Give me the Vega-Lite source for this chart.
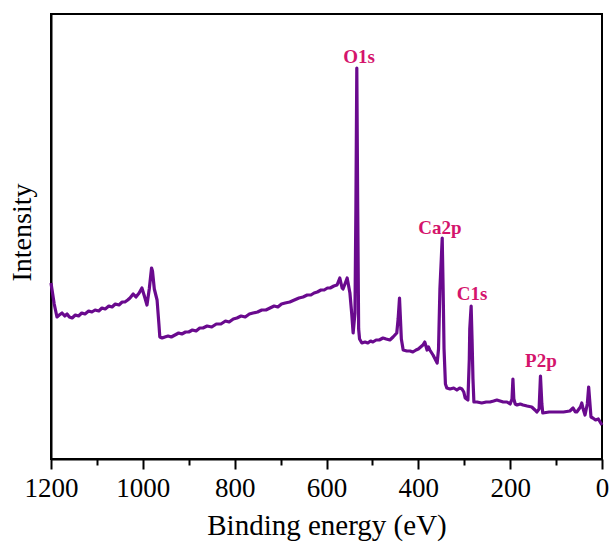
{
  "$schema": "https://vega.github.io/schema/vega-lite/v6.json",
  "width": 551,
  "height": 445,
  "autosize": {"type": "none"},
  "padding": {"left": 51, "top": 14, "right": 9, "bottom": 83},
  "config": {"view": {"stroke": "black", "strokeWidth": 2}, "axis": {"grid": false}},
  "datasets": {
    "spectrum": [
      {"energy": 1200, "intensity": 176}, {"energy": 1198, "intensity": 170}, {"energy": 1193, "intensity": 155},
      {"energy": 1187, "intensity": 142}, {"energy": 1182, "intensity": 144}, {"energy": 1176, "intensity": 146}, {"energy": 1170, "intensity": 143}, {"energy": 1165, "intensity": 145},
      {"energy": 1160, "intensity": 142}, {"energy": 1154, "intensity": 141}, {"energy": 1147, "intensity": 144}, {"energy": 1140, "intensity": 143}, {"energy": 1133, "intensity": 146}, {"energy": 1126, "intensity": 145},
      {"energy": 1118, "intensity": 148}, {"energy": 1111, "intensity": 147}, {"energy": 1104, "intensity": 149}, {"energy": 1096, "intensity": 148}, {"energy": 1089, "intensity": 151}, {"energy": 1082, "intensity": 150},
      {"energy": 1074, "intensity": 153}, {"energy": 1067, "intensity": 152}, {"energy": 1060, "intensity": 155}, {"energy": 1052, "intensity": 154}, {"energy": 1045, "intensity": 157},
      {"energy": 1039, "intensity": 157}, {"energy": 1033, "intensity": 159}, {"energy": 1028, "intensity": 161}, {"energy": 1021, "intensity": 165},
      {"energy": 1017, "intensity": 163}, {"energy": 1015, "intensity": 162}, {"energy": 1008, "intensity": 166},
      {"energy": 1002, "intensity": 171}, {"energy": 996, "intensity": 162}, {"energy": 991, "intensity": 154},
      {"energy": 986, "intensity": 170}, {"energy": 981, "intensity": 191}, {"energy": 979, "intensity": 188},
      {"energy": 975, "intensity": 170}, {"energy": 969, "intensity": 159}, {"energy": 965, "intensity": 135},
      {"energy": 963, "intensity": 122}, {"energy": 958, "intensity": 121}, {"energy": 952, "intensity": 122}, {"energy": 945, "intensity": 123}, {"energy": 938, "intensity": 122}, {"energy": 930, "intensity": 124},
      {"energy": 922, "intensity": 126}, {"energy": 915, "intensity": 125}, {"energy": 907, "intensity": 127}, {"energy": 900, "intensity": 127}, {"energy": 892, "intensity": 129}, {"energy": 884, "intensity": 128}, {"energy": 876, "intensity": 131}, {"energy": 869, "intensity": 131},
      {"energy": 860, "intensity": 133}, {"energy": 850, "intensity": 132}, {"energy": 840, "intensity": 135}, {"energy": 830, "intensity": 135}, {"energy": 820, "intensity": 138}, {"energy": 812, "intensity": 137}, {"energy": 803, "intensity": 140},
      {"energy": 795, "intensity": 141}, {"energy": 786, "intensity": 143}, {"energy": 777, "intensity": 142}, {"energy": 768, "intensity": 145}, {"energy": 760, "intensity": 146}, {"energy": 750, "intensity": 147}, {"energy": 741, "intensity": 149}, {"energy": 732, "intensity": 149},
      {"energy": 723, "intensity": 151}, {"energy": 714, "intensity": 153}, {"energy": 706, "intensity": 152}, {"energy": 698, "intensity": 155}, {"energy": 690, "intensity": 156}, {"energy": 680, "intensity": 157}, {"energy": 670, "intensity": 159}, {"energy": 660, "intensity": 161},
      {"energy": 651, "intensity": 162}, {"energy": 642, "intensity": 164}, {"energy": 634, "intensity": 164}, {"energy": 627, "intensity": 166}, {"energy": 620, "intensity": 167}, {"energy": 612, "intensity": 169}, {"energy": 605, "intensity": 169}, {"energy": 598, "intensity": 171},
      {"energy": 592, "intensity": 171}, {"energy": 584, "intensity": 173}, {"energy": 577, "intensity": 174}, {"energy": 571, "intensity": 181},
      {"energy": 566, "intensity": 171}, {"energy": 564, "intensity": 170}, {"energy": 559, "intensity": 176}, {"energy": 555, "intensity": 181},
      {"energy": 549, "intensity": 166}, {"energy": 545, "intensity": 145}, {"energy": 542, "intensity": 126},
      {"energy": 538, "intensity": 146}, {"energy": 536, "intensity": 250}, {"energy": 534, "intensity": 391},
      {"energy": 532, "intensity": 250}, {"energy": 530, "intensity": 130}, {"energy": 528, "intensity": 120},
      {"energy": 523, "intensity": 116}, {"energy": 516, "intensity": 117}, {"energy": 510, "intensity": 116}, {"energy": 504, "intensity": 118}, {"energy": 499, "intensity": 117},
      {"energy": 492, "intensity": 119}, {"energy": 485, "intensity": 119}, {"energy": 477, "intensity": 121}, {"energy": 470, "intensity": 120}, {"energy": 462, "intensity": 119}, {"energy": 455, "intensity": 122}, {"energy": 447, "intensity": 126},
      {"energy": 444, "intensity": 140}, {"energy": 441, "intensity": 161}, {"energy": 437, "intensity": 120},
      {"energy": 433, "intensity": 109}, {"energy": 425, "intensity": 108}, {"energy": 418, "intensity": 108}, {"energy": 412, "intensity": 107},
      {"energy": 405, "intensity": 109}, {"energy": 400, "intensity": 110}, {"energy": 395, "intensity": 112}, {"energy": 390, "intensity": 114}, {"energy": 386, "intensity": 117},
      {"energy": 381, "intensity": 109}, {"energy": 378, "intensity": 112}, {"energy": 375, "intensity": 109},
      {"energy": 368, "intensity": 104}, {"energy": 359, "intensity": 96}, {"energy": 356, "intensity": 110},
      {"energy": 353, "intensity": 170}, {"energy": 350, "intensity": 200}, {"energy": 348, "intensity": 221},
      {"energy": 346, "intensity": 170}, {"energy": 344, "intensity": 110}, {"energy": 341, "intensity": 75},
      {"energy": 338, "intensity": 71}, {"energy": 331, "intensity": 70}, {"energy": 323, "intensity": 71}, {"energy": 316, "intensity": 69},
      {"energy": 310, "intensity": 71}, {"energy": 305, "intensity": 70}, {"energy": 301, "intensity": 67}, {"energy": 298, "intensity": 61},
      {"energy": 292, "intensity": 59}, {"energy": 289, "intensity": 100}, {"energy": 288, "intensity": 130},
      {"energy": 285, "intensity": 153}, {"energy": 283, "intensity": 120}, {"energy": 281, "intensity": 80},
      {"energy": 279, "intensity": 57}, {"energy": 272, "intensity": 57}, {"energy": 262, "intensity": 56}, {"energy": 252, "intensity": 57}, {"energy": 244, "intensity": 57},
      {"energy": 236, "intensity": 58}, {"energy": 229, "intensity": 59}, {"energy": 222, "intensity": 58}, {"energy": 215, "intensity": 57}, {"energy": 207, "intensity": 57},
      {"energy": 200, "intensity": 55}, {"energy": 196, "intensity": 60}, {"energy": 194, "intensity": 80},
      {"energy": 192, "intensity": 60}, {"energy": 189, "intensity": 55}, {"energy": 185, "intensity": 54},
      {"energy": 178, "intensity": 55}, {"energy": 172, "intensity": 54}, {"energy": 163, "intensity": 53}, {"energy": 153, "intensity": 52}, {"energy": 146, "intensity": 49}, {"energy": 142, "intensity": 47},
      {"energy": 137, "intensity": 50}, {"energy": 134, "intensity": 83}, {"energy": 131, "intensity": 55},
      {"energy": 129, "intensity": 46}, {"energy": 115, "intensity": 47}, {"energy": 98, "intensity": 47}, {"energy": 84, "intensity": 47}, {"energy": 70, "intensity": 48},
      {"energy": 63, "intensity": 51}, {"energy": 58, "intensity": 47}, {"energy": 55, "intensity": 47},
      {"energy": 47, "intensity": 52}, {"energy": 44, "intensity": 56}, {"energy": 41, "intensity": 50},
      {"energy": 37, "intensity": 44}, {"energy": 32, "intensity": 55}, {"energy": 29, "intensity": 72},
      {"energy": 27, "intensity": 60}, {"energy": 24, "intensity": 42}, {"energy": 20, "intensity": 41},
      {"energy": 14, "intensity": 39}, {"energy": 8, "intensity": 40}, {"energy": 4, "intensity": 37},
      {"energy": 0, "intensity": 34}
    ],
    "peaks": [
      {"label": "O1s", "energy": 529, "intensity": 402},
      {"label": "Ca2p", "energy": 353, "intensity": 231},
      {"label": "C1s", "energy": 283, "intensity": 165},
      {"label": "P2p", "energy": 133, "intensity": 98}
    ]
  },
  "resolve": {"axis": {"x": "independent", "y": "independent"}},
  "layer": [
    {
      "data": {"name": "spectrum"},
      "mark": {"type": "line", "color": "#6a0a8e", "strokeWidth": 3.2, "strokeJoin": "round"},
      "encoding": {
        "x": {
          "field": "energy", "type": "quantitative",
          "scale": {"domain": [1200, 0], "nice": false, "zero": false},
          "axis": {
            "orient": "bottom",
            "values": [0, 200, 400, 600, 800, 1000, 1200],
            "format": "d",
            "tickSize": 10, "tickWidth": 2, "tickColor": "black",
            "domainColor": "black", "domainWidth": 2,
            "labelFont": "Times New Roman", "labelFontSize": 27, "labelColor": "black",
            "labelPadding": 6, "labelFlush": false, "labelOverlap": false,
            "title": "Binding energy (eV)", "titleFont": "Times New Roman", "titleFontSize": 29,
            "titleFontWeight": "normal", "titleColor": "black",
            "titleBaseline": "alphabetic", "titleY": 75, "titleX": 275.5, "titleAlign": "center"
          }
        },
        "y": {
          "field": "intensity", "type": "quantitative",
          "scale": {"domain": [0, 445], "nice": false, "zero": false},
          "axis": {
            "orient": "left",
            "ticks": false, "labels": false,
            "domainColor": "black", "domainWidth": 2,
            "title": "Intensity", "titleFont": "Times New Roman", "titleFontSize": 28,
            "titleFontWeight": "normal", "titleColor": "black",
            "titleAngle": 270, "titleX": -29, "titleY": 218,
            "titleAlign": "center", "titleBaseline": "middle"
          }
        }
      }
    },
    {
      "data": {"name": "peaks"},
      "mark": {"type": "text", "font": "Times New Roman", "fontWeight": "bold", "fontSize": 19, "color": "#d4146c", "align": "center", "baseline": "middle"},
      "encoding": {
        "x": {
          "field": "energy", "type": "quantitative",
          "scale": {"domain": [1200, 0], "nice": false, "zero": false},
          "axis": {
            "orient": "bottom",
            "values": [100, 300, 500, 700, 900, 1100],
            "tickSize": 6, "tickWidth": 2, "tickColor": "black",
            "labels": false, "domain": false, "title": null
          }
        },
        "y": {
          "field": "intensity", "type": "quantitative",
          "scale": {"domain": [0, 445], "nice": false, "zero": false},
          "axis": null
        },
        "text": {"field": "label"}
      }
    }
  ]
}
